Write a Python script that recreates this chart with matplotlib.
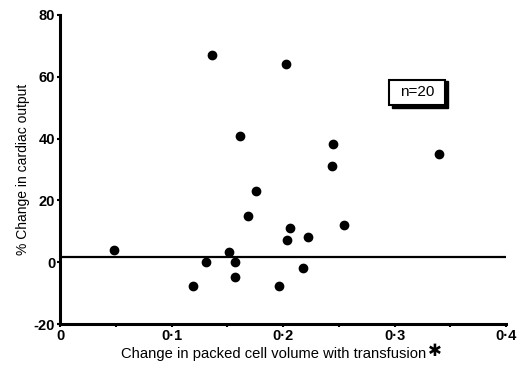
import matplotlib
matplotlib.use("Agg")

import matplotlib.pyplot as plt
from matplotlib.patches import Rectangle

plt.rcParams["font.family"] = ["Liberation Sans", "DejaVu Sans"]

# packed cell volume change vs % change in cardiac output
pcv_change = [0.048, 0.136, 0.203, 0.161, 0.245, 0.244, 0.340, 0.176, 0.169, 0.255,
              0.206, 0.204, 0.222, 0.152, 0.131, 0.157, 0.157, 0.119, 0.196, 0.218]
co_change = [3.9, 66.9, 64.1, 41.0, 38.3, 31.1, 35.1, 23.2, 15.1, 12.2,
             11.0, 7.2, 8.2, 3.2, 0.0, 0.0, -4.7, -7.8, -7.8, -1.8]
mean_line = 1.6

x_ticks = [0, 0.1, 0.2, 0.3, 0.4]
x_tick_labels = ["0", "0·1", "0·2", "0·3", "0·4"]
x_minor = [0.05, 0.15, 0.25, 0.35]
y_ticks = [-20, 0, 20, 40, 60, 80]

fig = plt.figure(figsize=(5.31, 3.65), dpi=100)
ax = fig.add_axes([0.113, 0.112, 0.84, 0.847])

ax.scatter(pcv_change, co_change, s=36, color="black", zorder=3)
ax.plot([0, 0.4], [mean_line, mean_line], color="black", lw=1.6)

ax.set_xlim(0, 0.4)
ax.set_ylim(-20, 80)
for side in ["top", "right"]:
    ax.spines[side].set_visible(False)
for side in ["left", "bottom"]:
    ax.spines[side].set_linewidth(2.2)

ax.set_xticks(x_ticks)
ax.set_xticklabels(x_tick_labels, fontweight="bold", fontsize=10.5)
ax.set_xticks(x_minor, minor=True)
ax.set_yticks(y_ticks)
ax.set_yticklabels([str(v) for v in y_ticks], fontweight="bold", fontsize=10.5)
ax.tick_params(axis="both", which="major", length=2.5, width=1.5, pad=1)
ax.tick_params(axis="x", which="minor", length=2.5, width=1.5)

ax.set_xlabel("Change in packed cell volume with transfusion", fontsize=10.6)
ax.xaxis.set_label_coords(0.478, -0.075)
ax.set_ylabel("% Change in cardiac output", fontsize=10, labelpad=3)
ax.text(0.330, -28.8, "✱", fontsize=12, fontweight="bold", ha="left", va="center",
        family="DejaVu Sans", clip_on=False)

# n=20 box with drop shadow
ax.add_patch(Rectangle((0.2975, 49.8), 0.0505, 9.0, facecolor="black",
                       edgecolor="black", zorder=4))
ax.add_patch(Rectangle((0.2951, 50.8), 0.0502, 8.3, facecolor="white",
                       edgecolor="black", lw=1.5, zorder=5))
ax.text(0.3202, 55.0, "n=20", fontsize=11, ha="center", va="center", zorder=6)

fig.savefig("out.png", dpi=100)
